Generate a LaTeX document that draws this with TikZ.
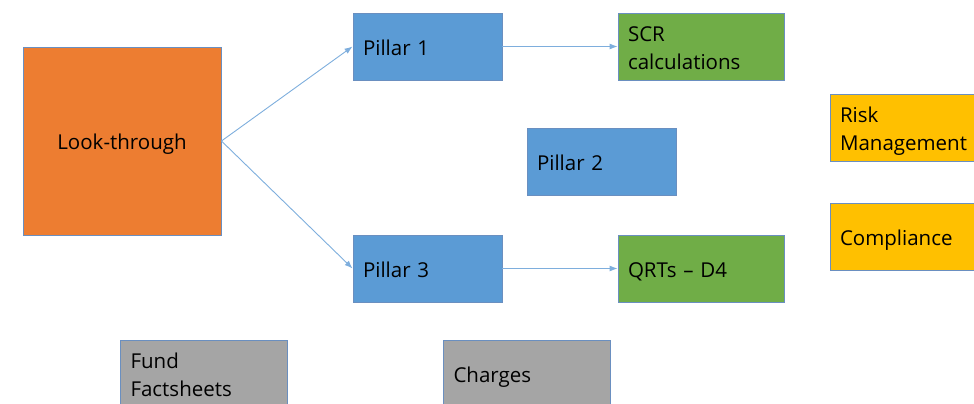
\documentclass[tikz,border=0pt]{standalone}
\usepackage{fontspec}
\setmainfont{Open Sans}
\usetikzlibrary{arrows.meta}
\definecolor{cOrange}{HTML}{ED7D31}
\definecolor{cBlue}{HTML}{5B9BD5}
\definecolor{cGreen}{HTML}{70AD47}
\definecolor{cGold}{HTML}{FFC000}
\definecolor{cGrey}{HTML}{A5A5A5}
\definecolor{cEdge}{HTML}{6A8FC0}
\definecolor{cArrow}{HTML}{7EAEDD}
\newcommand\mystrut{\rule[-4pt]{0pt}{26pt}}
\tikzset{
  box/.style={draw=cEdge, line width=0.9pt, rectangle, inner xsep=10pt, inner ysep=0pt,
    align=left, font=\fontsize{20.5}{28}\selectfont, text=black},
  pbox/.style={box, fill=cBlue, minimum width=149pt, minimum height=67pt, text width=129pt},
  gbox/.style={box, fill=cGreen, minimum width=166pt, minimum height=67pt, text width=146pt},
  ybox/.style={box, fill=cGold, minimum width=166pt, minimum height=67pt, text width=146pt},
  greybox/.style={box, fill=cGrey, minimum width=167pt, minimum height=67pt, text width=147pt},
  conn/.style={draw=cArrow, line width=0.9pt, -{Latex[length=8pt,width=6pt]}}
}
\begin{document}
\begin{tikzpicture}[x=1pt,y=-1pt]
\useasboundingbox (0,0) rectangle (974,404);
\clip (0,0) rectangle (974,404);
\node[box, fill=cOrange, minimum width=198pt, minimum height=188pt, align=center] (look) at (122,141) {\mystrut Look-through};
\node[pbox] (p1) at (427.5,46.5) {\mystrut Pillar 1};
\node[pbox] (p2) at (601.5,161.5) {\mystrut Pillar 2};
\node[pbox] (p3) at (427.5,268.5) {\mystrut Pillar 3};
\node[gbox] (scr) at (701,46.5) {\mystrut SCR\\\mystrut calculations};
\node[gbox] (qrt) at (701,268.5) {\mystrut QRTs -- D4};
\node[ybox] (risk) at (913,127.5) {\mystrut Risk\\\mystrut Management};
\node[ybox] (comp) at (913,236.5) {\mystrut Compliance};
\node[greybox] (fund) at (204,373.5) {\mystrut Fund\\\mystrut Factsheets};
\node[greybox] (chg) at (527,373.5) {\mystrut Charges};
\draw[conn] (look.east) -- (p1.west);
\draw[conn] (look.east) -- (p3.west);
\draw[conn] (p1.east) -- (scr.west);
\draw[conn] (p3.east) -- (qrt.west);
\end{tikzpicture}
\end{document}
